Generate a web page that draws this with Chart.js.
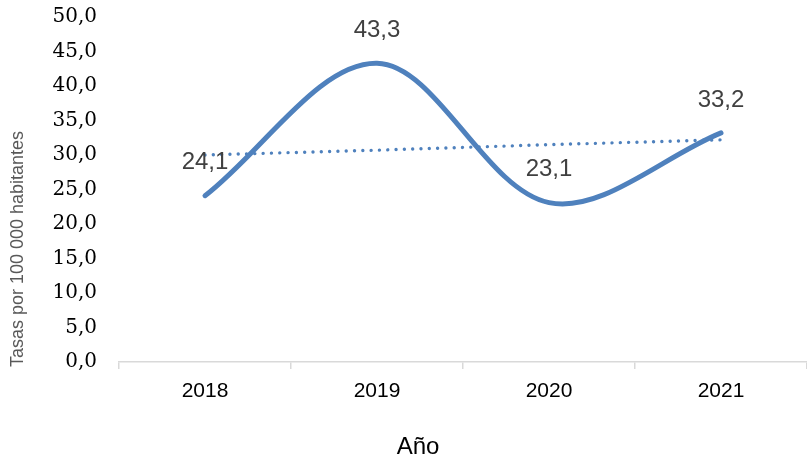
<!DOCTYPE html>
<html lang="es">
<head>
    <meta charset="UTF-8" />
    <title>Tasas por 100 000 habitantes</title>
    <script src="https://cdn.jsdelivr.net/npm/chart.js@4/dist/chart.umd.min.js"></script>
    <style>
        body { margin: 0; background: #fff; }
        #wrap { width: 807px; height: 460px; }
    </style>
</head>
<body>
    <div id="wrap"><canvas id="tasasChart" width="807" height="460"></canvas></div>

    <script>
        // datos
        const anios = ["2018", "2019", "2020", "2021"];
        const tasas = [24.1, 43.3, 23.1, 33.2];
        const tendencia = [30.0, 30.7, 31.5, 32.2];
        const yMin = 0;
        const yMax = 50;
        const yPaso = 5;
        const tituloY = "Tasas por 100 000 habitantes";
        const tituloX = "Año";

        const azul = "rgb(79, 129, 189)";
        const coma = (v) => v.toFixed(1).replace(".", ",");

        // etiquetas de datos y titulos de ejes
        const extras = {
            id: "extras",
            afterDatasetsDraw(chart) {
                const ctx = chart.ctx;
                const meta = chart.getDatasetMeta(0);
                ctx.save();
                ctx.font = "24px 'Liberation Sans', Arial, sans-serif";
                ctx.fillStyle = "#404040";
                ctx.textAlign = "center";
                ctx.textBaseline = "middle";
                meta.data.forEach((pt, i) => {
                    ctx.fillText(coma(tasas[i]), pt.x, pt.y - 33);
                });

                ctx.fillStyle = "#000";
                ctx.fillText(tituloX, 418, 447);

                ctx.translate(18, 249);
                ctx.rotate(-Math.PI / 2);
                ctx.font = "18px 'Liberation Sans', Arial, sans-serif";
                ctx.fillStyle = "#595959";
                ctx.fillText(tituloY, 0, 0);
                ctx.restore();
            },
        };

        new Chart(document.getElementById("tasasChart"), {
            type: "line",
            data: {
                labels: anios,
                datasets: [
                    {
                        label: "Tasa",
                        data: tasas,
                        borderColor: azul,
                        borderWidth: 5,
                        borderCapStyle: "round",
                        tension: 0.34,
                        pointRadius: 0,
                        fill: false,
                    },
                    {
                        label: "Tendencia",
                        data: tendencia,
                        borderColor: azul,
                        borderWidth: 3.4,
                        borderCapStyle: "round",
                        borderDash: [0.01, 8.3],
                        tension: 0,
                        pointRadius: 0,
                        fill: false,
                    },
                ],
            },
            options: {
                responsive: false,
                animation: false,
                layout: { padding: 0 },
                plugins: {
                    legend: { display: false },
                    tooltip: { enabled: false },
                },
                scales: {
                    x: {
                        offset: true,
                        border: { color: "#d9d9d9", width: 1.5 },
                        grid: {
                            offset: true,
                            drawOnChartArea: false,
                            color: "#d9d9d9",
                            lineWidth: 1.5,
                            tickLength: 7,
                        },
                        ticks: {
                            color: "#000",
                            padding: 10,
                            font: { family: "'Liberation Sans', Arial, sans-serif", size: 21 },
                        },
                        afterFit(scale) {
                            scale.height = 98;
                        },
                    },
                    y: {
                        min: yMin,
                        max: yMax,
                        border: { display: false },
                        grid: { display: false, drawTicks: false },
                        ticks: {
                            stepSize: yPaso,
                            color: "#000",
                            padding: 22,
                            font: { family: "'DejaVu Serif', serif", size: 20 },
                            callback: (v) => coma(v),
                        },
                        afterFit(scale) {
                            scale.width = 119;
                            scale.paddingTop = 17;
                            scale.paddingBottom = 0;
                        },
                    },
                },
            },
            plugins: [extras],
        });
    </script>
</body>
</html>
